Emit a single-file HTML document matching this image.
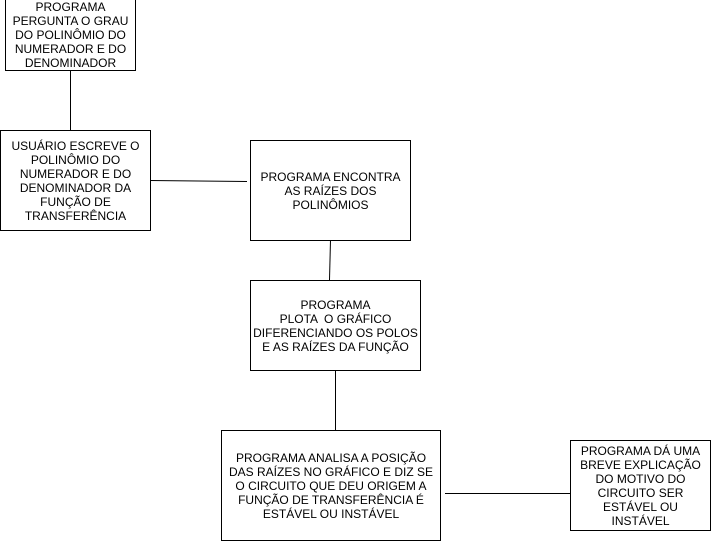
<!DOCTYPE html>
<html><head><meta charset="utf-8"><style>
body{margin:0;width:711px;height:541px;background:#fff;position:relative;overflow:hidden;font-family:"Liberation Sans",Arial,sans-serif;}
.b{position:absolute;box-sizing:border-box;border:1px solid #000;display:flex;align-items:center;justify-content:center;text-align:center;font-size:12px;line-height:14px;color:#000;}
svg{position:absolute;left:0;top:0}
</style></head><body>
<svg width="711" height="541"><g stroke="#000" stroke-width="1">
<line x1="70.5" y1="70" x2="70.5" y2="130"/>
<line x1="150" y1="180.5" x2="247" y2="181.5"/>
<line x1="330.5" y1="240" x2="329.5" y2="280"/>
<line x1="335.5" y1="370" x2="335.5" y2="430"/>
<line x1="445" y1="493.5" x2="570" y2="493.5"/>
</g></svg>
<div class="b" style="left:5px;top:-1px;width:131px;height:72px;align-items:flex-start;padding-top:0">PROGRAMA<br>PERGUNTA O GRAU<br>DO POLINÔMIO DO<br>NUMERADOR E DO<br>DENOMINADOR</div>
<div class="b" style="left:0;top:130px;width:151px;height:101px">USUÁRIO ESCREVE O<br>POLINÔMIO DO<br>NUMERADOR E DO<br>DENOMINADOR DA<br>FUNÇÃO DE<br>TRANSFERÊNCIA</div>
<div class="b" style="left:250px;top:140px;width:161px;height:101px">PROGRAMA ENCONTRA<br>AS RAÍZES DOS<br>POLINÔMIOS</div>
<div class="b" style="left:250px;top:280px;width:171px;height:91px">PROGRAMA<br>PLOTA &nbsp;O GRÁFICO<br>DIFERENCIANDO OS POLOS<br>E AS RAÍZES DA FUNÇÃO</div>
<div class="b" style="left:221px;top:430px;width:220px;height:111px">PROGRAMA ANALISA A POSIÇÃO<br>DAS RAÍZES NO GRÁFICO E DIZ SE<br>O CIRCUITO QUE DEU ORIGEM A<br>FUNÇÃO DE TRANSFERÊNCIA É<br>ESTÁVEL OU INSTÁVEL</div>
<div class="b" style="left:570px;top:440px;width:141px;height:91px">PROGRAMA DÁ UMA<br>BREVE EXPLICAÇÃO<br>DO MOTIVO DO<br>CIRCUITO SER<br>ESTÁVEL OU<br>INSTÁVEL</div>
</body></html>
